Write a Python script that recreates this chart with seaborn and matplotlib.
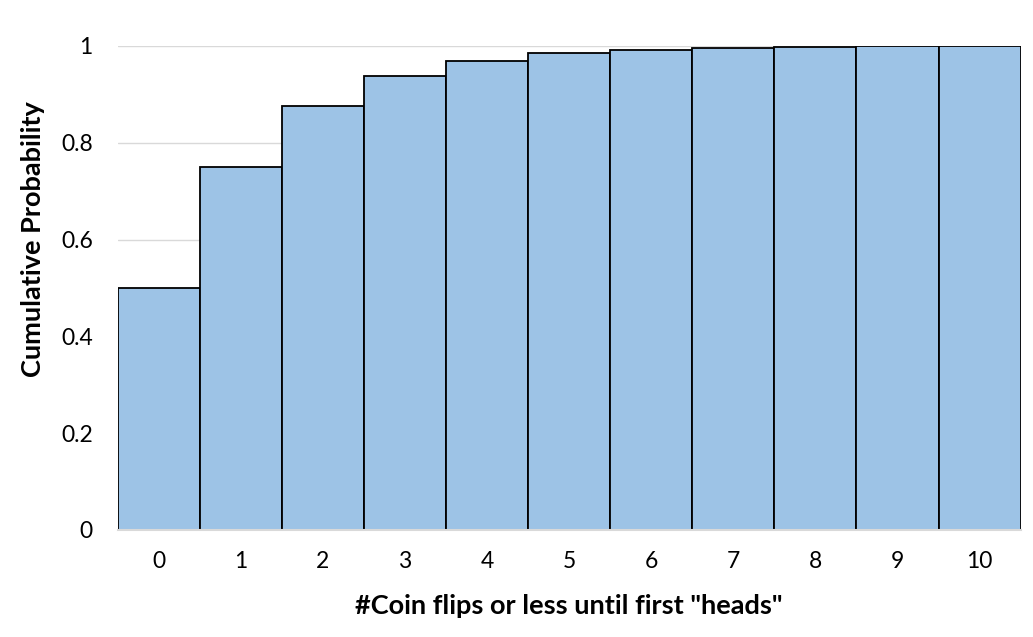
import matplotlib
matplotlib.use("Agg")
import matplotlib.pyplot as plt
import seaborn as sns
import pandas as pd

# number of flips and cumulative probability of first "heads"
flips = ["0", "1", "2", "3", "4", "5", "6", "7", "8", "9", "10"]
cum_prob = [0.5, 0.75, 0.875, 0.9375, 0.96875, 0.984375, 0.9921875,
            0.99609375, 0.998046875, 0.9990234375, 0.99951171875]

df = pd.DataFrame({"flips": flips, "prob": cum_prob})

sns.set_style("white")
plt.rcParams["font.family"] = ["Lato", "DejaVu Sans"]

fig, ax = plt.subplots(figsize=(10.33, 6.37), dpi=100)
fig.subplots_adjust(left=0.114, right=0.988, top=0.928, bottom=0.168)

sns.barplot(data=df, x="flips", y="prob", color="#9DC3E6", width=1.0,
            edgecolor="black", linewidth=1.3, saturation=1, ax=ax, zorder=3)

ax.set_ylim(0, 1)
ax.set_xlim(-0.5, 10.5)
ax.set_yticks([0, 0.2, 0.4, 0.6, 0.8, 1.0])
ax.set_yticklabels(["0", "0.2", "0.4", "0.6", "0.8", "1"])
ax.yaxis.grid(True, color="#D9D9D9", linewidth=1, zorder=0)
ax.set_axisbelow(True)

for s in ["top", "right", "left"]:
    ax.spines[s].set_visible(False)
ax.spines["bottom"].set_color("#D9D9D9")
ax.spines["bottom"].set_linewidth(1.5)
ax.spines["bottom"].set_zorder(4)

ax.tick_params(axis="both", length=0, labelsize=16.5, colors="black")
ax.tick_params(axis="x", pad=15)
ax.tick_params(axis="y", pad=18)

ax.set_xlabel('#Coin flips or less until first "heads"', fontsize=19.5,
              fontweight="bold", color="black")
ax.set_ylabel("Cumulative Probability", fontsize=19.5, fontweight="bold",
              color="black")
ax.xaxis.set_label_coords(0.5, -0.133)
ax.yaxis.set_label_coords(-0.081, 0.6)

fig.savefig("out.png", dpi=100)
